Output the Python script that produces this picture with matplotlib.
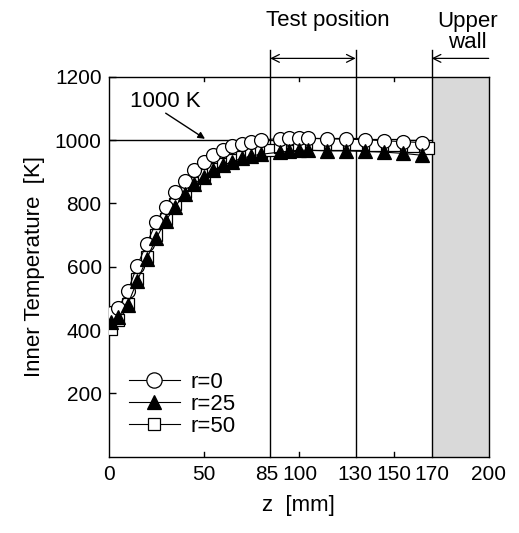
import matplotlib
matplotlib.use("Agg")
import matplotlib.pyplot as plt
from matplotlib.transforms import ScaledTranslation

plt.rcParams['font.family'] = ['Liberation Sans', 'DejaVu Sans']

z_r0 = [1, 5, 10, 15, 20, 25, 30, 35, 40, 45, 50, 55, 60, 65, 70, 75, 80,
        90, 95, 100, 105, 115, 125, 135, 145, 155, 165]
t_r0 = [455, 470, 522, 603, 673, 740, 790, 835, 872, 905, 930, 953, 970, 980, 988, 994, 1000,
        1005, 1008, 1008, 1006, 1004, 1003, 1001, 998, 995, 992]

z_r25 = [1, 5, 10, 15, 20, 25, 30, 35, 40, 45, 50, 55, 60, 65, 70, 75, 80,
         90, 95, 100, 105, 115, 125, 135, 145, 155, 165]
t_r25 = [425, 440, 480, 555, 625, 690, 745, 790, 830, 860, 885, 905, 920, 932, 942, 950, 955,
         962, 965, 968, 968, 966, 966, 964, 962, 958, 952]

z_r50 = [1, 5, 10, 15, 20, 25, 30, 35, 40, 45, 50, 55, 60, 65, 70, 75, 80, 85,
         90, 100, 110, 120, 130, 140, 150, 160, 168]
t_r50 = [405, 432, 482, 562, 632, 700, 752, 797, 836, 866, 890, 910, 926, 938, 948, 956, 962, 970,
         978, 985, 988, 988, 987, 985, 983, 980, 975]

xtick_vals = [0, 50, 85, 100, 130, 150, 170, 200]
ytick_vals = [200, 400, 600, 800, 1000, 1200]

fig = plt.figure(figsize=(5.19, 5.33), dpi=100)
ax = fig.add_axes([0.2094, 0.143, 0.7322, 0.713])

ax.axvspan(170, 200, color='#d9d9d9', zorder=0, lw=0)
ax.plot([0, 170], [1000, 1000], color='black', lw=1.0, zorder=1)
for xv in [85, 130, 170]:
    ax.plot([xv, xv], [0, 1285], color='black', lw=1.0, clip_on=False, zorder=1)

fs = 16
fst = 15
l50, = ax.plot(z_r50, t_r50, '-', color='black', lw=0.8, marker='s', ms=8.5,
               mfc='white', mec='black', mew=0.9, zorder=3)
l0, = ax.plot(z_r0, t_r0, '-', color='black', lw=0.8, marker='o', ms=10,
              mfc='white', mec='black', mew=0.9, zorder=4)
l25, = ax.plot(z_r25, t_r25, '-', color='black', lw=0.8, marker='^', ms=9.5,
               mfc='black', mec='black', mew=0.9, zorder=5)

ax.set_xlim(0, 200)
ax.set_ylim(0, 1200)
ax.set_xticks(xtick_vals)
ax.set_xticklabels([str(v) for v in xtick_vals], fontsize=fst)
ax.set_yticks(ytick_vals)
ax.set_yticklabels([str(v) for v in ytick_vals], fontsize=fst)
ax.tick_params(axis='x', which='both', direction='in', length=0, pad=6, top=False)
ax.tick_params(axis='y', direction='in', length=5, width=1, pad=5)
shifts = {85: -3, 100: 1.5, 130: -1}
for lab, v in zip(ax.get_xticklabels(), xtick_vals):
    dx = shifts.get(v, 0)
    if dx:
        lab.set_transform(lab.get_transform() + ScaledTranslation(dx / 100, 0, fig.dpi_scale_trans))
for xv in [50, 100, 150]:
    ax.plot([xv, xv], [0, 14], color='black', lw=1, zorder=2)
    ax.plot([xv, xv], [1200, 1186], color='black', lw=1, zorder=2)
for s in ax.spines.values():
    s.set_linewidth(1.0)

ax.set_xlabel('z  [mm]', fontsize=fs, labelpad=8)
ax.set_ylabel('Inner Temperature  [K]', fontsize=fs, labelpad=7)

ax.text(29.6, 1121, '1000 K', fontsize=fs, ha='center', va='center')
ax.annotate('', xy=(50.7, 1004), xytext=(30, 1085),
            arrowprops=dict(arrowstyle='-|>', color='black', lw=1.0,
                            mutation_scale=10, shrinkA=0, shrinkB=0))

ax.annotate('', xy=(85, 1258), xytext=(130, 1258), annotation_clip=False,
            arrowprops=dict(arrowstyle='<->', color='black', lw=0.9,
                            mutation_scale=14, shrinkA=0, shrinkB=0))
ax.annotate('', xy=(170, 1258), xytext=(200, 1258), annotation_clip=False,
            arrowprops=dict(arrowstyle='->', color='black', lw=0.9,
                            mutation_scale=14, shrinkA=0, shrinkB=0))
ax.text(115.3, 1379, 'Test position', fontsize=fs, ha='center', va='center', clip_on=False)
ax.text(188.7, 1340, 'Upper\nwall', fontsize=fs, ha='center', va='center',
        linespacing=1.0, clip_on=False)

leg = ax.legend([l0, l25, l50], ['r=0', 'r=25', 'r=50'], loc='lower left',
                bbox_to_anchor=(0.0, 0.0), frameon=False, fontsize=fs,
                handlelength=2.3, handletextpad=0.5, labelspacing=0.05, markerscale=1.1)

fig.savefig('out.png', dpi=100)
